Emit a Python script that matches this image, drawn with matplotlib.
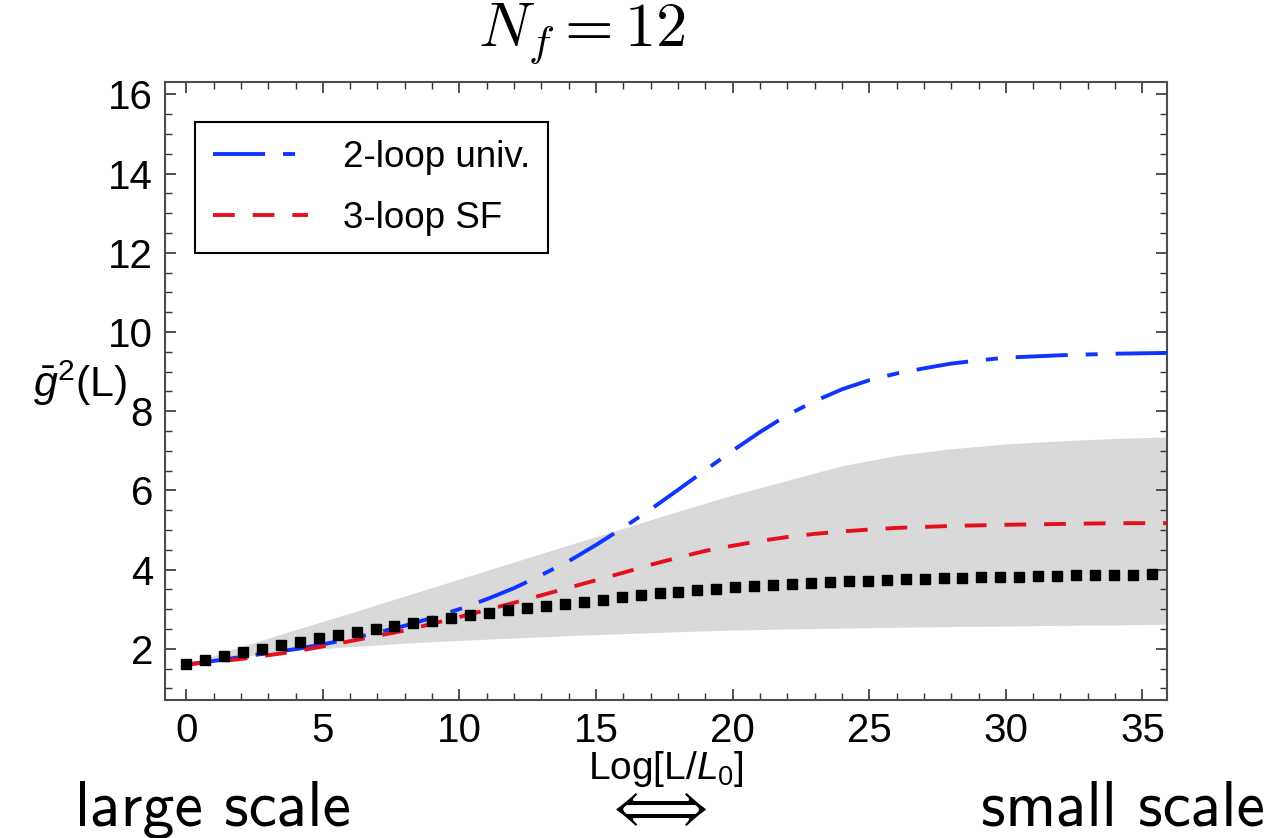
import numpy as np
import matplotlib
matplotlib.use('Agg')
import matplotlib.pyplot as plt
from matplotlib.ticker import MultipleLocator

plt.rcParams['font.family'] = ['Liberation Sans', 'DejaVu Sans']
plt.rcParams['mathtext.fontset'] = 'custom'
plt.rcParams['mathtext.rm'] = 'Liberation Sans'
plt.rcParams['mathtext.it'] = 'Liberation Sans:italic'

# running coupling curves vs Log[L/L0]
x_blue = [0, 1, 2, 3, 4, 5, 6, 7, 8, 9, 10, 11, 12, 13, 14, 15, 16, 17, 18,
          19, 20, 21, 22, 23, 24, 25, 26, 27, 28, 29, 30, 32, 34, 36]
g2_2loop = [1.60, 1.69, 1.79, 1.89, 1.99, 2.11, 2.25, 2.41, 2.58, 2.78, 3.00,
            3.25, 3.53, 3.86, 4.21, 4.62, 5.06, 5.52, 6.01, 6.51, 7.00, 7.47,
            7.90, 8.25, 8.55, 8.78, 8.95, 9.08, 9.20, 9.28, 9.35, 9.41, 9.45, 9.47]

x_red = [0, 2, 4, 6, 8, 10, 12, 14, 16, 17, 18, 19, 20, 21, 22, 23, 24, 25,
         26, 28, 30, 32, 34, 36]
g2_3loop = [1.60, 1.74, 1.93, 2.19, 2.46, 2.80, 3.16, 3.54, 3.92, 4.12, 4.30,
            4.47, 4.60, 4.72, 4.82, 4.90, 4.96, 5.01, 5.05, 5.10, 5.13, 5.15,
            5.17, 5.17]

# error band
x_band = [0, 2, 4, 6, 8, 10, 12, 14, 16, 18, 20, 22, 24, 26, 28, 30, 32, 34, 36]
band_hi = [1.60, 2.05, 2.48, 2.90, 3.33, 3.76, 4.19, 4.62, 5.04, 5.47, 5.88,
           6.25, 6.62, 6.88, 7.05, 7.17, 7.25, 7.31, 7.35]
band_lo = [1.60, 1.80, 1.95, 2.05, 2.14, 2.21, 2.27, 2.33, 2.38, 2.43, 2.47,
           2.50, 2.52, 2.54, 2.56, 2.57, 2.59, 2.60, 2.62]

# step scaling points, one every factor of 2 in L
g2_step = [1.62, 1.71, 1.82, 1.91, 1.99, 2.09, 2.18, 2.27, 2.35, 2.43, 2.49,
           2.57, 2.64, 2.70, 2.78, 2.85, 2.91, 2.98, 3.04, 3.09, 3.14, 3.19,
           3.24, 3.30, 3.35, 3.40, 3.44, 3.48, 3.52, 3.56, 3.59, 3.62, 3.64,
           3.66, 3.68, 3.70, 3.72, 3.74, 3.76, 3.77, 3.78, 3.79, 3.80, 3.81,
           3.82, 3.83, 3.84, 3.85, 3.86, 3.86, 3.87, 3.88]
x_step = 0.693 * np.arange(len(g2_step))

fig = plt.figure(figsize=(12.7, 8.38), dpi=100)
ax = fig.add_axes([0.1303, 0.1647, 0.7886, 0.7374])

ax.fill_between(x_band, band_lo, band_hi, color='#d9d9d9', lw=0, zorder=1)
ax.plot(x_blue, g2_2loop, color='#1034ff', lw=2.8, dashes=(13.4, 4.6, 3.1, 4.6),
        label='2-loop univ.', zorder=3)
ax.plot(x_red, g2_3loop, color='#e5101e', lw=2.8, dashes=(5.6, 4.6),
        label='3-loop SF', zorder=3)
ax.plot(x_step, g2_step, 's', color='black', ms=7, zorder=4)

ax.set_xlim(-0.76, 35.9)
ax.set_ylim(0.705, 16.31)
ax.set_xticks(range(0, 36, 5))
ax.set_yticks(range(2, 17, 2))
ax.xaxis.set_minor_locator(MultipleLocator(1))
ax.yaxis.set_minor_locator(MultipleLocator(0.5))
ax.tick_params(which='both', direction='in', top=True, right=True,
               color='#333333', labelsize=29)
ax.tick_params(which='major', length=8, width=1.2, pad=9)
ax.tick_params(which='minor', length=5, width=1.0)
for s in ax.spines.values():
    s.set_linewidth(1.5)
    s.set_color('#4d4d4d')

ax.set_xlabel(r'Log[L/$L_0$]', fontsize=28)
ax.xaxis.set_label_coords(0.5, -0.111)
ax.xaxis.label.set_va('center')
ax.set_ylabel(r'$\bar{g}^2$(L)', fontsize=31, rotation=0, ha='center', va='center')
ax.yaxis.set_label_coords(-0.0854, 0.513)

leg = ax.legend(loc='upper left', bbox_to_anchor=(0.0295, 0.935), borderaxespad=0,
                fontsize=26.5, handlelength=2.6, handletextpad=0.95,
                labelspacing=0.7, borderpad=0.48, fancybox=False)
leg.get_frame().set_edgecolor('black')
leg.get_frame().set_linewidth(1.5)
leg.get_frame().set_alpha(1)

fig.text(582 / 1270, 1 - 34 / 838, r'$N_f = 12$', fontsize=45, ha='center',
         va='center', math_fontfamily='cm')

fig.text(75 / 1270, 0.0155, 'large scale', family='cmss10', fontsize=46,
         ha='left', va='baseline')
fig.text(1265 / 1270, 0.0155, 'small scale', family='cmss10', fontsize=46,
         ha='right', va='baseline')
fig.text(655 / 1270, 0.0, r'$\Longleftrightarrow$', fontsize=44,
         ha='center', va='bottom', math_fontfamily='cm')

fig.savefig('out.png', dpi=100)
